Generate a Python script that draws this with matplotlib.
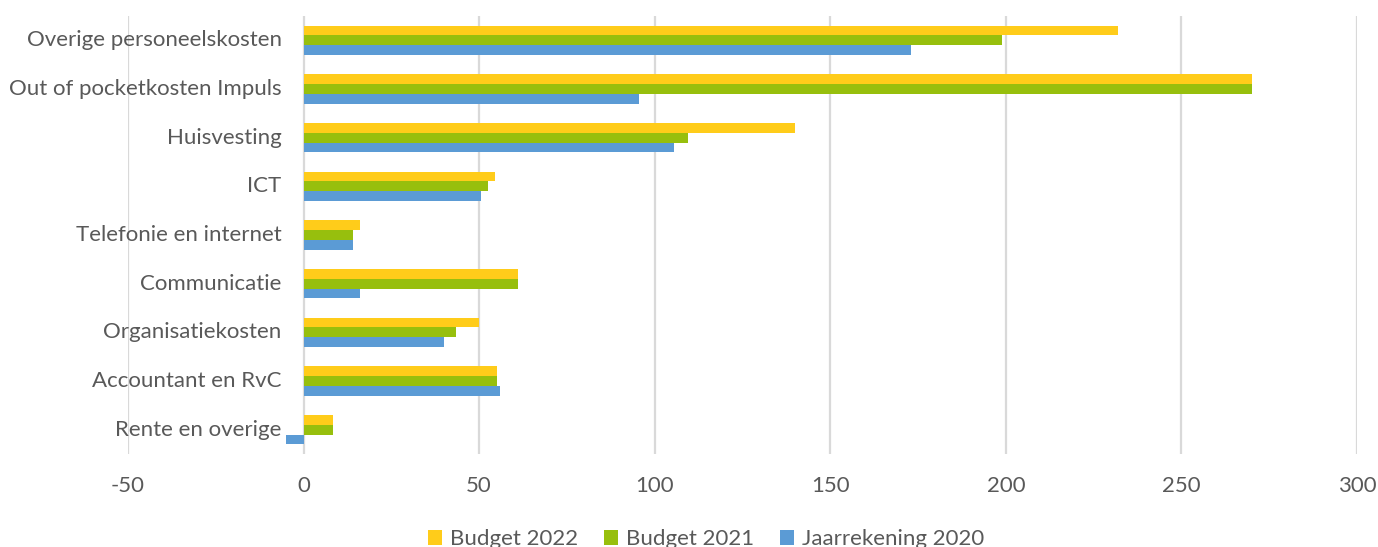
import matplotlib
matplotlib.use("Agg")
import matplotlib.pyplot as plt
from matplotlib.transforms import offset_copy
from matplotlib.patches import Patch
import numpy as np

categories = ["Overige personeelskosten", "Out of pocketkosten Impuls", "Huisvesting", "ICT",
              "Telefonie en internet", "Communicatie", "Organisatiekosten",
              "Accountant en RvC", "Rente en overige"]
budget_2022 = [232, 270, 140, 54.5, 16, 61, 50, 55, 8.5]
budget_2021 = [199, 270, 109.5, 52.5, 14, 61, 43.5, 55, 8.5]
jaarrekening_2020 = [173, 95.5, 105.5, 50.5, 14, 16, 40, 56, -5]
series_names = ["Budget 2022", "Budget 2021", "Jaarrekening 2020"]
x_ticks = [-50, 0, 50, 100, 150, 200, 250, 300]

colors = ["#FFCC1A", "#97BF0D", "#5B9BD5"]
text_color = "#595959"
font = ["Lato", "DejaVu Sans"]
plt.rcParams["font.family"] = font
fs = 16

fig = plt.figure(figsize=(13.78, 5.47), dpi=100)
W, H = 1378, 547
ax = fig.add_axes([128 / W, 1 - 454 / H, (1357 - 128) / W, (454 - 16) / H])

y = np.arange(len(categories))
h = 0.2
for vals, off, c in zip([budget_2022, budget_2021, jaarrekening_2020], [-h, 0, h], colors):
    ax.barh(y + off, vals, height=h, color=c, zorder=3)

ax.set_xlim(-50, 300)
ax.set_ylim(len(categories) - 0.5, -0.5)
ax.set_xticks(x_ticks)
ax.set_xticklabels([str(t) for t in x_ticks], fontsize=fs, color=text_color)
ax.tick_params(axis="x", length=0, pad=16)
ax.set_yticks([])
ax.grid(axis="x", color="#D9D9D9", linewidth=1.6, zorder=0)
for s in ax.spines.values():
    s.set_visible(False)

tr = offset_copy(ax.transData, fig=fig, x=-22, y=0, units="dots")
for i, cat in enumerate(categories):
    ax.text(0, i, cat, transform=tr, ha="right", va="center", fontsize=fs, color=text_color)

handles = [Patch(facecolor=c, edgecolor="none") for c in colors]
fig.legend(handles, series_names, loc="center", bbox_to_anchor=(706 / W, 1 - 539 / H), ncol=3,
           frameon=False, fontsize=fs, labelcolor=text_color, handlelength=0.65, handleheight=0.65,
           handletextpad=0.35, columnspacing=1.15, borderpad=0)

fig.savefig("out.png", dpi=100)
